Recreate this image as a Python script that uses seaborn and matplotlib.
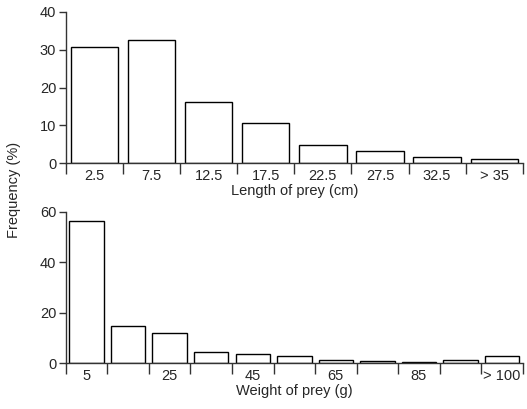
import matplotlib
matplotlib.use("Agg")
import matplotlib.pyplot as plt
import numpy as np
import pandas as pd
import seaborn as sns

# dados
comprimento_classes = ["2.5", "7.5", "12.5", "17.5", "22.5", "27.5", "32.5", "> 35"]
comprimento_freq = [30.7, 32.6, 16.2, 10.6, 4.9, 3.2, 1.6, 1.0]

peso_classes = ["5", "15", "25", "35", "45", "55", "65", "75", "85", "95", "> 100"]
peso_rotulos = ["5", "", "25", "", "45", "", "65", "", "85", "", "> 100"]
peso_freq = [56.5, 14.8, 11.8, 4.4, 3.6, 2.8, 1.2, 0.8, 0.3, 1.2, 2.8]

sns.set_style("ticks")
plt.rcParams['font.family'] = ['Liberation Sans', 'DejaVu Sans']

fig = plt.figure(figsize=(5.27, 4.09), dpi=100)
ax1 = fig.add_axes([0.125, 0.601, 0.867, 0.370])
ax2 = fig.add_axes([0.125, 0.112, 0.867, 0.370])


def desenha(ax, classes, rotulos, freq, ymax, passo, xlabel):
    df = pd.DataFrame({"classe": classes, "freq": freq})
    sns.barplot(data=df, x="classe", y="freq", ax=ax, color="white",
                edgecolor="black", linewidth=1, width=0.83, saturation=1)
    n = len(classes)
    ax.set_xlim(-0.5, n - 0.5)
    ax.set_ylim(0, ymax)
    ax.set_yticks(np.arange(0, ymax + 1, passo))
    ax.set_xticks(np.arange(-0.5, n, 1.0))
    ax.set_xticklabels([])
    ax.set_xticks(np.arange(n), minor=True)
    ax.set_xticklabels(rotulos, minor=True)
    ax.tick_params(axis="x", which="major", length=8, width=1, color="#333333")
    ax.tick_params(axis="x", which="minor", length=0, labelsize=10.5, pad=4)
    ax.tick_params(axis="y", length=5, width=1, labelsize=10.5, color="#333333", pad=2)
    for s in ["top", "right"]:
        ax.spines[s].set_visible(False)
    for s in ["left", "bottom"]:
        ax.spines[s].set_color("#333333")
        ax.spines[s].set_linewidth(1)
    ax.set_xlabel(xlabel, fontsize=10.5, labelpad=1)
    ax.set_ylabel("")


desenha(ax1, comprimento_classes, comprimento_classes, comprimento_freq, 40, 10,
        "Length of prey (cm)")
desenha(ax2, peso_classes, peso_rotulos, peso_freq, 60, 20, "Weight of prey (g)")

fig.text(0.027, 0.535, "Frequency (%)", rotation=90, va="center", ha="center", fontsize=10.5)

fig.savefig("out.png", dpi=100)
